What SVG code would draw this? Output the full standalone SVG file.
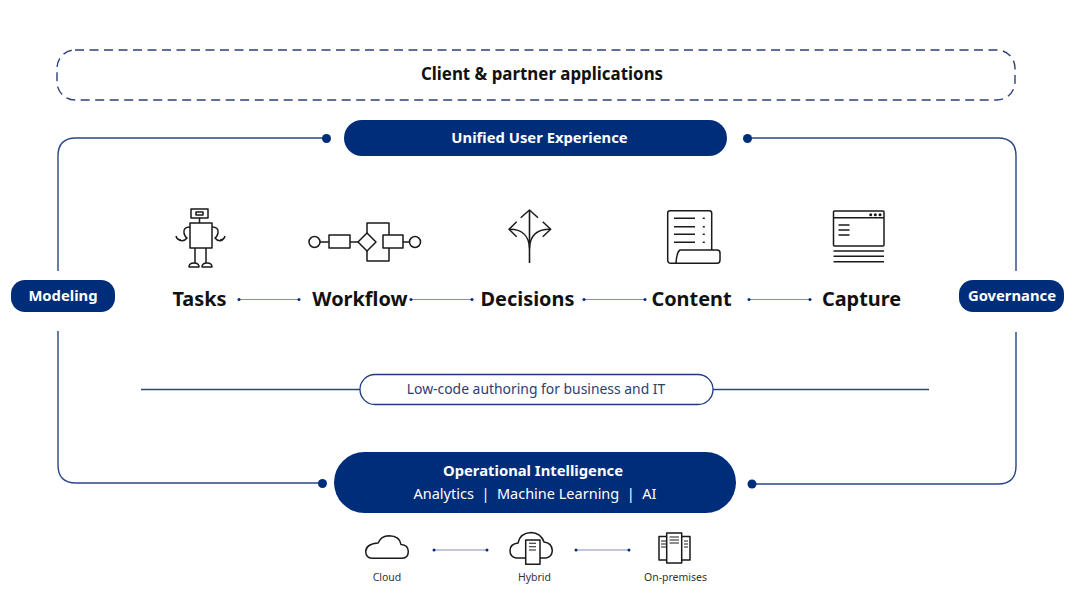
<svg xmlns="http://www.w3.org/2000/svg" width="1078" height="593" viewBox="0 0 1078 593">
<style>
text{font-family:"Noto Sans","Liberation Sans",sans-serif;text-anchor:middle}
.pill{fill:#002d7a}
.wt{fill:#fff;font-weight:700;font-size:14.8px}
.lab{fill:#111;font-weight:700;font-size:19.9px}
.small{fill:#333;font-size:10.5px}
.frame{fill:none;stroke:#284583;stroke-width:1.4}
.thin{fill:none;stroke:#7e8fb8;stroke-width:1}
.dot{fill:#002d7a}
.ic{fill:none;stroke:#1a1a1a;stroke-width:1.500;stroke-linejoin:round}
</style>
<rect width="1078" height="593" fill="#fff"/>
<g id="connectors">
<path class="frame" d="M326 138H76Q58 138 58 156V271"/>
<path class="frame" d="M58 331V465Q58 483 76 483H322"/>
<path class="frame" d="M747 138H998Q1016 138 1016 156V271"/>
<path class="frame" d="M1016 332V466Q1016 484 998 484H752"/>
<circle class="dot" cx="326.500" cy="138.500" r="4.500"/>
<circle class="dot" cx="747.500" cy="138.500" r="4.500"/>
<circle class="dot" cx="322.500" cy="483.500" r="4.500"/>
<circle class="dot" cx="752" cy="484" r="4.500"/>
<path class="frame" d="M141 389.500H360M713 389.500H929"/>
<path class="thin" d="M239 299.500H299M411 299.500H472M584 299.500H645M749 299.500H810M434 550H487M576 550H629"/>
<g class="dot">
<circle cx="239" cy="299.500" r="1.500"/><circle cx="299" cy="299.500" r="1.500"/>
<circle cx="411" cy="299.500" r="1.500"/><circle cx="472" cy="299.500" r="1.500"/>
<circle cx="584" cy="299.500" r="1.500"/><circle cx="645" cy="299.500" r="1.500"/>
<circle cx="749" cy="299.500" r="1.500"/><circle cx="810" cy="299.500" r="1.500"/>
<circle cx="434" cy="550" r="1.500"/><circle cx="487" cy="550" r="1.500"/>
<circle cx="576" cy="550" r="1.500"/><circle cx="629" cy="550" r="1.500"/>
</g>
</g>
<g id="client-apps">
<rect x="57" y="50" width="958" height="50" rx="18" fill="none" stroke="#2f3f78" stroke-width="1.400" stroke-dasharray="9 5.500"/>
<text x="542" y="80" font-size="16.900" font-weight="700" fill="#111">Client &amp; partner applications</text>
</g>
<g id="unified-ux">
<rect class="pill" x="344" y="120" width="383" height="36" rx="18"/>
<text class="wt" x="539.500" y="143">Unified User Experience</text>
</g>
<g id="modeling">
<rect class="pill" x="11" y="280" width="104" height="32" rx="14"/>
<text class="wt" x="63" y="301">Modeling</text>
</g>
<g id="governance">
<rect class="pill" x="959" y="280" width="105" height="32" rx="14"/>
<text class="wt" x="1012" y="301">Governance</text>
</g>
<g id="tasks">
<g class="ic">
<rect x="191" y="209" width="17" height="9"/><rect x="196" y="212" width="7" height="3"/>
<path d="M199.500 218V223"/><rect x="190" y="223" width="22" height="25"/>
<path d="M195 248V263M206 248V263"/>
<path d="M189 267Q189 263 194 263Q199 263 199 267ZM202 267Q202 263 207 263Q212 263 212 267Z"/>
<path d="M190 227Q183 227 184 233Q185 237 187 238Q184 242 179 240M176 236Q177 240 181 240"/>
<path d="M212 227Q219 227 218 233Q217 237 215 238Q218 242 223 240M225 236Q224 240 220 240"/>
</g>
<text class="lab" x="199.500" y="306">Tasks</text>
</g>
<g id="workflow">
<g class="ic">
<circle cx="314.500" cy="242" r="5.500"/><path d="M320 242H329"/>
<rect x="329" y="235" width="21" height="13"/><path d="M350 242H358.500"/>
<path d="M367 233L376 242L367 251L358 242Z"/>
<path d="M367 233V223H389V235M367 251V261H389V248"/>
<rect x="383" y="235" width="20" height="13"/><path d="M403 242H409.500"/>
<circle cx="415" cy="242" r="5.500"/>
</g>
<text class="lab" x="360" y="306">Workflow</text>
</g>
<g id="decisions">
<g class="ic">
<path d="M529.500 211V263" stroke-width="1.600"/>
<path d="M520.700 217.700L529.500 210L538 217.700M516.700 221.700L509 229.300L516.700 236.700M542.700 221.700L550.700 229.300L542.700 236.700"/>
<path d="M509 229.300C522 229 529 236 529.500 248C530 236 537 229 550.700 229.300"/>
</g>
<text class="lab" x="527.500" y="306">Decisions</text>
</g>
<g id="content">
<g class="ic">
<path d="M676 263.300H671Q667.700 263.300 667.700 260V213Q667.700 210.700 670 210.700H709.500Q711.700 210.700 711.700 213V250"/>
<path d="M680 250H717Q720 250 720 253V260Q720 263.300 717 263.300H676Q676.700 252 680 250Z"/>
<path d="M674 218.300H695M674 226.700H695M674 234.300H695M674 242.300H695M702.800 218.300H704.800M702.800 226.700H704.800M702.800 234.300H704.800M702.800 242.300H704.800"/>
</g>
<text class="lab" x="691.500" y="306">Content</text>
</g>
<g id="capture">
<g class="ic">
<rect x="833.500" y="211" width="50.500" height="35" rx="1"/>
<path d="M833.500 217.700H884M838.500 225H849.500M838.500 230H849.500M838.500 235H849.500M833.500 251H884M833.500 256.300H884M833.500 261.700H884"/>
</g>
<g fill="#1a1a1a"><circle cx="870.700" cy="214.700" r="1.500"/><circle cx="875.300" cy="214.700" r="1.500"/><circle cx="880" cy="214.700" r="1.500"/></g>
<text class="lab" x="861.500" y="306">Capture</text>
</g>
<g id="low-code">
<rect x="360" y="374.500" width="353" height="30" rx="15" fill="#fff" stroke="#1f3c7e" stroke-width="1.300"/>
<text x="536" y="394" font-size="13.900" fill="#2c4070">Low-code authoring for business and IT</text>
</g>
<g id="operational">
<rect class="pill" x="334" y="452" width="402" height="61" rx="30.500"/>
<text class="wt" x="533" y="476">Operational Intelligence</text>
<text x="535" y="499" font-size="14.500" fill="#fff" xml:space="preserve">Analytics  |  Machine Learning  |  AI</text>
</g>
<g id="cloud">
<path class="ic" d="M372 558.300H402Q408.300 558 408.300 551.500Q408.300 545 401 544.500Q400 536 389 535.700Q381 536 378 543Q366 544 365.700 551.500Q366 558 372 558.300Z"/>
<text class="small" x="387" y="581">Cloud</text>
</g>
<g id="hybrid">
<g class="ic">
<path d="M525.700 558H516Q510 557 510 550.500Q510 544 518 543Q520 533 531 532.500Q541 533 544 542Q552 543 552.300 550.500Q552 557 546 558H540"/>
<rect x="525.700" y="540" width="14.300" height="24.300"/>
<path d="M529 543.300H536M529 546.700H536M529 550H536" stroke-width="1.100"/>
</g>
<text class="small" x="534.500" y="581">Hybrid</text>
</g>
<g id="on-premises">
<g class="ic">
<rect x="666.700" y="533" width="15" height="30"/>
<path d="M666.700 536.500H659V560H666.700M681.700 536.500H690V560H681.700"/>
<path d="M669.500 537H679M669.500 540H679M669.500 543H679M661 541H666M661 544H666M661 547H666M684 541H688M684 544H688M684 547H688" stroke-width="1"/>
</g>
<text class="small" x="675.500" y="581">On-premises</text>
</g>
</svg>
